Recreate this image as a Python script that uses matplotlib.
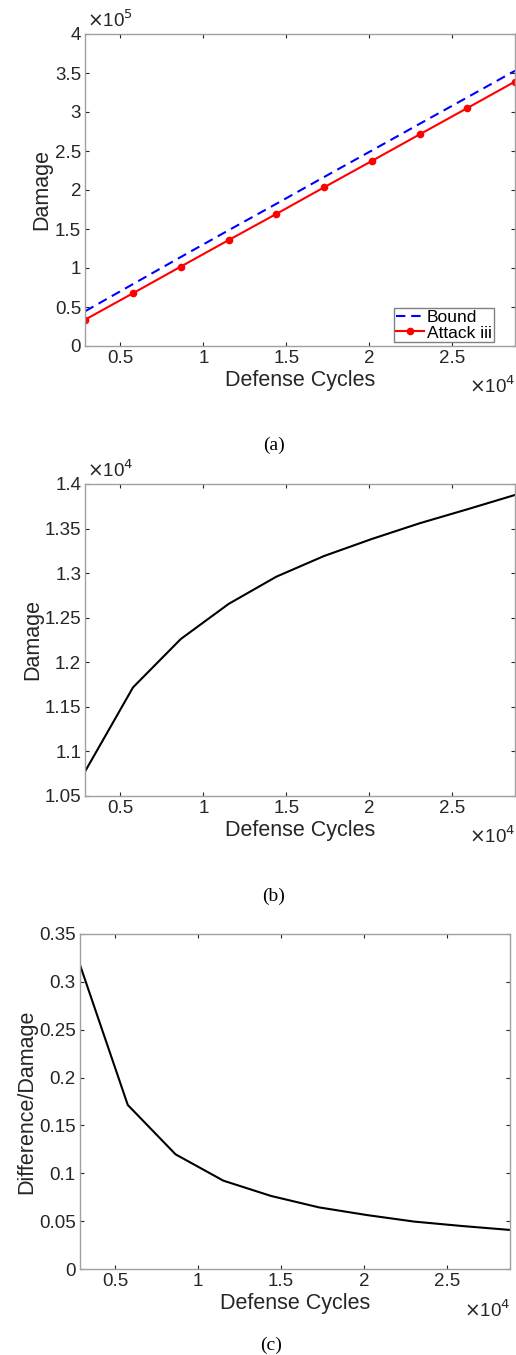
import numpy as np
import matplotlib
matplotlib.use('Agg')
import matplotlib.pyplot as plt

plt.rcParams['font.family'] = ['Liberation Sans', 'DejaVu Sans']

# defense cycles (same for all three panels)
cycles = [2880, 5760, 8640, 11520, 14400, 17280, 20160, 23040, 25920, 28800]

# (a) damage
bound = [44680, 79420, 114060, 148350, 182260, 216590, 250580, 284760, 318720, 352880]
attack_iii = [33900, 67700, 101800, 135700, 169300, 203400, 237200, 271200, 305000, 339000]

# (b) damage difference
diff = [10780, 11719, 12261, 12654, 12960, 13192, 13383, 13559, 13716, 13877]

# (c) difference / damage
ratio = [0.3177, 0.1714, 0.1198, 0.0923, 0.0763, 0.0644, 0.0564, 0.0495, 0.0449, 0.0408]

xtick_vals = [5000, 10000, 15000, 20000, 25000]
xtick_labels = ["0.5", "1", "1.5", "2", "2.5"]

ya_ticks = [0, 50000, 100000, 150000, 200000, 250000, 300000, 350000, 400000]
ya_labels = ["0", "0.5", "1", "1.5", "2", "2.5", "3", "3.5", "4"]
yb_ticks = [10500, 11000, 11500, 12000, 12500, 13000, 13500, 14000]
yb_labels = ["1.05", "1.1", "1.15", "1.2", "1.25", "1.3", "1.35", "1.4"]
yc_ticks = [0, 0.05, 0.1, 0.15, 0.2, 0.25, 0.3, 0.35]
yc_labels = ["0", "0.05", "0.1", "0.15", "0.2", "0.25", "0.3", "0.35"]

W, H = 516, 1355
fig = plt.figure(figsize=(W / 100, H / 100), dpi=100)

txt = '#262626'
frame = '#a0a0a0'
tick_fs = 13.5
label_fs = 15.5
exp_fs = 13.5


def box(l, t, r, b):
    return [l / W, 1 - b / H, (r - l) / W, (b - t) / H]


def style(ax, yt, yl, ylim):
    ax.set_xlim(cycles[0], cycles[-1])
    ax.set_ylim(*ylim)
    ax.set_xticks(xtick_vals)
    ax.set_xticklabels(xtick_labels, fontsize=tick_fs, color=txt)
    ax.set_yticks(yt)
    ax.set_yticklabels(yl, fontsize=tick_fs, color=txt)
    ax.tick_params(direction='in', top=True, right=True, length=3,
                   width=0.8, color=txt, pad=3)
    for s in ax.spines.values():
        s.set_color(frame)
        s.set_linewidth(1.0)
    ax.set_xlabel('Defense Cycles', fontsize=label_fs, color=txt, labelpad=2)


# (a)
ax1 = fig.add_axes(box(85.3, 34, 515, 346))
ax1.plot(cycles, bound, color='#0000ff', linestyle=(0, (4.5, 2.8)), linewidth=1.5, label='Bound')
ax1.plot(cycles, attack_iii, color='#ff0000', linewidth=1.5, marker='o', ms=4.5, label='Attack iii')
style(ax1, ya_ticks, ya_labels, (0, 400000))
ax1.set_ylabel('Damage', fontsize=label_fs, color=txt, labelpad=2)
leg = ax1.legend(loc='lower right', bbox_to_anchor=(0.95, 0.012), fontsize=12.5,
                 fancybox=False, framealpha=1, edgecolor='#808080',
                 handlelength=1.65, handletextpad=0.15, borderpad=0.1,
                 labelspacing=0.0, borderaxespad=0.0)
leg.get_frame().set_linewidth(1.0)
for t in leg.get_texts():
    t.set_color('black')
ax1.text(0.005, 1.01, r'$\times$10$^5$', transform=ax1.transAxes, fontsize=exp_fs,
         color=txt, ha='left', va='bottom')
ax1.text(1.0, -0.095, r'$\times$10$^4$', transform=ax1.transAxes, fontsize=exp_fs,
         color=txt, ha='right', va='top')
fig.text(274 / W, 1 - 445 / H, '(a)', fontsize=14, family='Liberation Serif',
         ha='center', va='center')

# (b)
ax2 = fig.add_axes(box(85.3, 484, 515, 796))
ax2.plot(cycles, diff, color='black', linewidth=1.5)
style(ax2, yb_ticks, yb_labels, (10500, 14000))
ax2.set_ylabel('Damage', fontsize=label_fs, color=txt, labelpad=1)
ax2.text(0.005, 1.01, r'$\times$10$^4$', transform=ax2.transAxes, fontsize=exp_fs,
         color=txt, ha='left', va='bottom')
ax2.text(1.0, -0.095, r'$\times$10$^4$', transform=ax2.transAxes, fontsize=exp_fs,
         color=txt, ha='right', va='top')
fig.text(274 / W, 1 - 896 / H, '(b)', fontsize=14, family='Liberation Serif',
         ha='center', va='center')

# (c)
ax3 = fig.add_axes(box(80, 934, 510, 1269))
ax3.plot(cycles, ratio, color='black', linewidth=1.5)
style(ax3, yc_ticks, yc_labels, (0, 0.35))
ax3.set_ylabel('Difference/Damage', fontsize=label_fs, color=txt, labelpad=1)
ax3.text(1.0, -0.09, r'$\times$10$^4$', transform=ax3.transAxes, fontsize=exp_fs,
         color=txt, ha='right', va='top')
fig.text(271 / W, 1 - 1345 / H, '(c)', fontsize=14, family='Liberation Serif',
         ha='center', va='center')

fig.savefig('out.png', dpi=100)
